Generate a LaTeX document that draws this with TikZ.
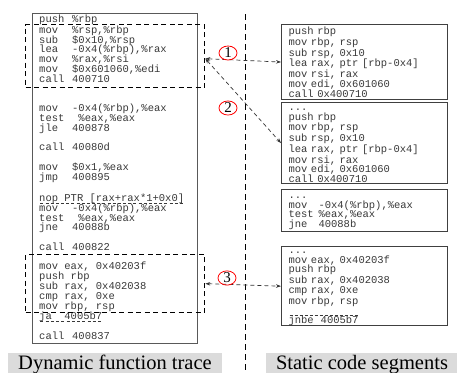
\documentclass[tikz,border=0pt]{standalone}
\usepackage{fontspec}
\setmainfont{Liberation Serif}
\newfontfamily\codefont{Liberation Mono}
\usetikzlibrary{arrows.meta,shapes.geometric}
\newcommand\twocol[2]{\makebox[33pt][l]{#1}#2}
\newcommand\twocolr[2]{\makebox[30pt][l]{#1}#2}
\newcommand\dotline{\rule{0pt}{7pt}...}
\newsavebox\myulbox
\newcommand\dashul[1]{\sbox\myulbox{#1}\rlap{\raisebox{-2pt}{\hbox to \wd\myulbox{\xleaders\hbox to 5pt{\hfil\rule{3pt}{0.5pt}\hfil}\hfill}}}\usebox\myulbox}
\begin{document}
\begin{tikzpicture}[x=1pt,y=-1pt,
  code/.style={anchor=west,inner sep=0pt,text height=7pt,text depth=2pt,
    font=\codefont\fontsize{10.5}{9.7}\selectfont,text=black!78},
  bigbox/.style={draw=black!65,line width=0.9pt,anchor=north west,minimum width=165pt,minimum height=330pt,inner sep=0pt},
  dbox/.style={draw=black,line width=1.3pt,dash pattern=on 5pt off 3.5pt,anchor=north west,minimum width=179pt,inner sep=0pt},
  rbox/.style={draw=black!75,line width=1.1pt,anchor=north west,minimum width=166pt,text width=152pt,inner xsep=7pt,inner ysep=0pt,align=left,
    font=\codefont\fontsize{10.5}{9.7}\selectfont,text=black!78},
  num/.style={ellipse,draw=red,line width=0.8pt,minimum width=18pt,minimum height=13pt,inner sep=0pt,font=\fontsize{15}{15}\selectfont},
  conn/.style={draw=black!80,line width=0.7pt,dash pattern=on 4pt off 3pt,{Stealth[length=5pt,width=3.5pt]}-{Stealth[length=5pt,width=3.5pt]}},
  lab/.style={fill=black!14,inner xsep=0pt,inner ysep=2pt,font=\fontsize{20.5}{22}\selectfont,anchor=base}
]
\useasboundingbox (0,0) rectangle (457,372);

% left trace box
\node[bigbox] (T) at (32,13) {};
\node[code] (L1) at (39,20) {\twocol{push}{\%rbp}};
\node[code] (L2) at (39,30.5) {\twocol{mov}{\%rsp,\%rbp}};
\node[code] (L3) at (39,40.5) {\twocol{sub}{\$0x10,\%rsp}};
\node[code] (L4) at (39,50.3) {\twocol{lea}{-0x4(\%rbp),\%rax}};
\node[code] (L5) at (39,60) {\twocol{mov}{\%rax,\%rsi}};
\node[code] (L6) at (39,69.8) {\twocol{mov}{\$0x601060,\%edi}};
\node[code] (L7) at (39,79.5) {\twocol{call}{400710}};
\node[code] (L8) at (39,109) {\twocol{mov}{-0x4(\%rbp),\%eax}};
\node[code] (L9) at (39,119) {\twocol{test}{~\%eax,\%eax}};
\node[code] (L10) at (39,129) {\twocol{jle}{400878}};
\node[code] (L11) at (39,148) {\twocol{call}{40080d}};
\node[code] (L12) at (39,168) {\twocol{mov}{\$0x1,\%eax}};
\node[code] (L13) at (39,178) {\twocol{jmp}{400895}};
\node[code] (L14) at (39,199) {\dashul{nop PTR [rax+rax*1+0x0]}};
\node[code] (L15) at (39,209) {\twocol{mov}{-0x4(\%rbp),\%eax}};
\node[code] (L16) at (39,218.5) {\twocol{test}{~\%eax,\%eax}};
\node[code] (L17) at (39,228) {\twocol{jne}{40088b}};
\node[code] (L18) at (39,247.5) {\twocol{call}{400822}};
\node[code] (L19) at (39,267) {mov eax, 0x40203f};
\node[code] (L20) at (39,277) {push rbp};
\node[code] (L21) at (39,287) {sub rax, 0x402038};
\node[code] (L22) at (39,297) {cmp rax, 0xe};
\node[code] (L23) at (39,307) {mov rbp, rsp};
\node[code] (L24) at (39,317) {\dashul{ja~~4005b7}};
\node[code] (L25) at (39,337) {\twocol{call}{400837}};

% dashed highlight boxes
\node[dbox,minimum height=63pt] (D1) at (25,24) {};
\node[dbox,minimum height=58pt] (D3) at (25,254) {};

% divider
\draw[black,line width=0.9pt,dash pattern=on 6pt off 4pt] (245,14) -- (245,372);

% right static segments
\node[rbox,minimum height=75pt] (A) at (281,24) {push rbp\\mov rbp, rsp\\sub rsp, 0x10\\lea rax, ptr [rbp-0x4]\\mov rsi, rax\\mov edi, 0x601060\\call 0x400710};
\node[rbox,minimum height=81pt] (B) at (281,102) {\dotline\\push rbp\\mov rbp, rsp\\sub rsp, 0x10\\lea rax, ptr [rbp-0x4]\\mov rsi, rax\\mov edi, 0x601060\\call 0x400710};
\node[rbox,minimum height=42pt] (C) at (281,189) {\dotline\\\twocolr{mov}{-0x4(\%rbp),\%eax}\\\twocolr{test}{\%eax,\%eax}\\\twocolr{jne}{40088b}};
\node[rbox,minimum height=73pt] (D) at (281,246) {\dotline\\mov eax, 0x40203f\\push rbp\\sub rax, 0x402038\\cmp rax, 0xe\\mov rbp, rsp\\\dashul{jnbe~~4005b7}};

% connectors
\draw[conn] ([yshift=-2.5pt]D1.east) -- (A.west);
\draw[conn] ([yshift=-2.5pt]D1.east) -- (B.west);
\draw[conn] (D3.east) -- (D.west);

% numbered markers
\node[num] (C1) at (228,53) {1};
\node[num] (C2) at (228,108) {2};
\node[num] (C3) at (227,278) {3};

% captions
\node[lab,minimum width=214pt] (LT) at (115,369) {Dynamic function trace};
\node[lab,minimum width=192pt] (LS) at (362,369) {Static code segments};
\end{tikzpicture}
\end{document}
